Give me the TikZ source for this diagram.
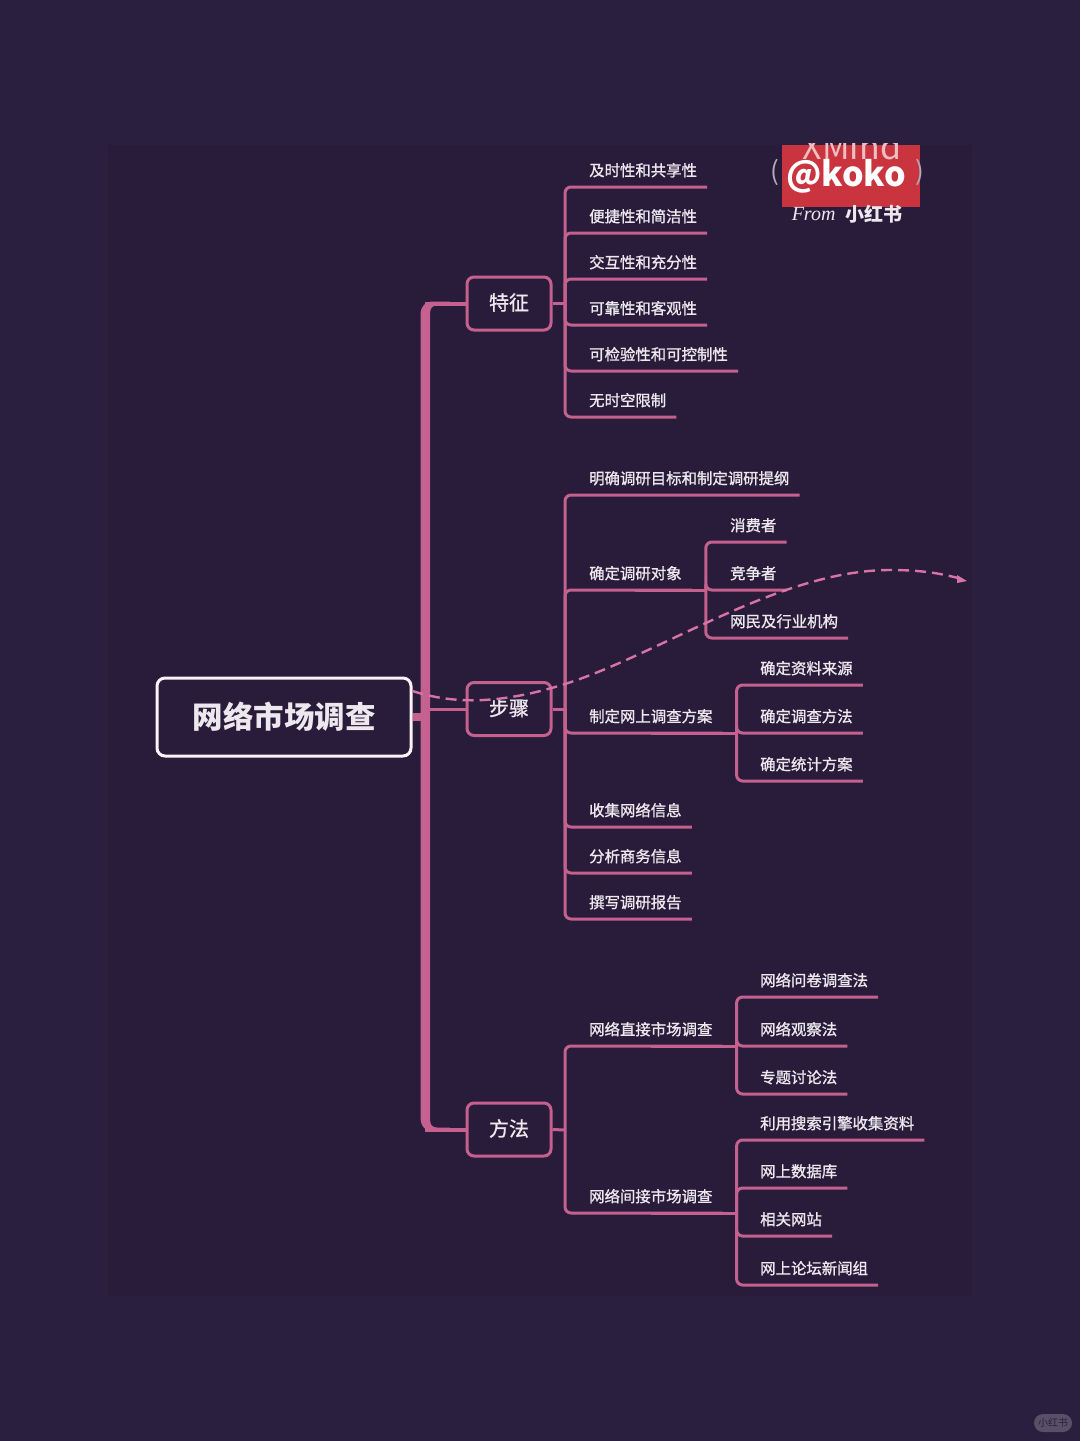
\documentclass[tikz,border=0pt]{standalone}
\usepackage{fontspec}
\setmainfont{Noto Sans CJK SC}
\newfontfamily\labelfont[FakeBold=1.2]{Noto Sans CJK SC}
\newfontfamily\stampfont{Liberation Serif}
\definecolor{bgouter}{HTML}{2A1F3E}
\definecolor{bginner}{HTML}{281C3A}
\definecolor{linkpink}{HTML}{C4618F}
\definecolor{dashpink}{HTML}{D873A8}
\definecolor{labelwhite}{HTML}{ECE8EE}
\definecolor{stampred}{HTML}{C9343F}
\begin{document}
\begin{tikzpicture}[
            x=1pt,
            y=-1pt,
            root box/.style={draw=white!92!linkpink, line width=3pt, rounded corners=8pt, minimum width=254pt, minimum height=78pt, inner sep=0pt, text=labelwhite, font=\fontsize{30.5}{34}\selectfont\bfseries},
            topic box/.style={draw=linkpink, line width=3pt, rounded corners=7pt, minimum width=84pt, minimum height=53pt, inner sep=0pt, text height=17.6pt, text depth=4.4pt, text=labelwhite, font=\fontsize{20}{24}\labelfont},
            leaf text/.style={anchor=south west, minimum height=34pt, inner ysep=0pt, inner xsep=10pt, text height=13.5pt, text depth=0.9pt, text=labelwhite, font=\fontsize{15.4}{18}\labelfont},
            twig/.style={draw=linkpink, line width=3pt, rounded corners=6pt},
            stub/.style={draw=linkpink, line width=3pt}
        ]
        \useasboundingbox (0,0) rectangle (1080,1441);
        \fill[bgouter] (0,0) rectangle (1080,1441);
        \fill[bginner] (108,145) rectangle (972,1296);

        \node[root box] (root) at (284,717) {网络市场调查};
        \node[topic box] (feature) at (509,303.5) {特征};
        \node[topic box] (steps) at (509,709) {步骤};
        \node[topic box] (methods) at (509,1129.5) {方法};

        \coordinate (trunk) at (425,717);
        \fill[linkpink] (430,314) .. controls (430,308.5) and (432,305.5) .. (437,305.5) -- (450,305.5) -- (450,301.5) -- (434,301.5)
            .. controls (425,301.5) and (420.5,306) .. (420.5,315) -- (420.5,1117)
            .. controls (420.5,1126) and (425,1131.5) .. (434,1131.5) -- (450,1131.5) -- (450,1127.5) -- (437,1127.5)
            .. controls (432,1127.5) and (430,1124.5) .. (430,1119) -- cycle;
        \draw[linkpink, line width=8pt] (root.east) -- (trunk);
        \draw[linkpink, line width=4pt] (trunk |- feature.west) -- (feature.west);
        \draw[linkpink, line width=4pt] (trunk |- methods.west) -- (methods.west);
        \draw[stub] (trunk |- steps.west) -- (steps.west);

        \coordinate (feature hub) at (565,303.5);
        \coordinate (steps hub) at (565,709);
        \coordinate (methods hub) at (565,1130);
        \draw[stub] (feature.east) -- (feature hub);
        \draw[stub] (steps.east) -- (steps hub);
        \draw[stub] (methods.east) -- (methods hub);

        \foreach \name/\ypos/\value in {
                fa/187/及时性和共享性,
                fb/233/便捷性和简洁性,
                fc/279/交互性和充分性,
                fd/325/可靠性和客观性,
                fe/371/可检验性和可控制性,
                ff/417/无时空限制
            } {
                \node[leaf text] (\name) at (579,\ypos) {\value};
                \draw[twig] (feature hub) |- (\name.south east);
            }

        \foreach \name/\ypos/\value in {
                sa/495/明确调研目标和制定调研提纲,
                sb/590/确定调研对象,
                sc/733/制定网上调查方案,
                sd/827/收集网络信息,
                se/873/分析商务信息,
                sf/919/撰写调研报告
            } {
                \node[leaf text] (\name) at (579,\ypos) {\value};
                \draw[twig] (steps hub) |- (\name.south east);
            }

        \foreach \name/\ypos/\value in {
                ma/1046/网络直接市场调查,
                mb/1213/网络间接市场调查
            } {
                \node[leaf text] (\name) at (579,\ypos) {\value};
                \draw[twig] (methods hub) |- (\name.south east);
            }

        \path (sb.south east) ++(14,0) coordinate (sb hub);
        \path (sc.south east) ++(14,0) coordinate (sc hub);
        \path (ma.south east) ++(14,0) coordinate (ma hub);
        \path (mb.south east) ++(14,0) coordinate (mb hub);
        \draw[stub] (sb.south) -- (sb hub);
        \draw[stub] (sc.south) -- (sc hub);
        \draw[stub] (ma.south) -- (ma hub);
        \draw[stub] (mb.south) -- (mb hub);

        \foreach \name/\ypos/\value in {
                sba/542/消费者,
                sbb/590/竞争者,
                sbc/638/网民及行业机构
            } {
                \node[leaf text] (\name) at (720,\ypos) {\value};
                \draw[twig] (sb hub) |- (\name.south east);
            }

        \foreach \hub/\name/\ypos/\value in {
                sc hub/sca/685/确定资料来源,
                sc hub/scb/733/确定调查方法,
                sc hub/scc/781/确定统计方案,
                ma hub/maa/997/网络问卷调查法,
                ma hub/mab/1046/网络观察法,
                ma hub/mac/1094/专题讨论法,
                mb hub/mba/1140/利用搜索引擎收集资料,
                mb hub/mbb/1188/网上数据库,
                mb hub/mbc/1236/相关网站,
                mb hub/mbd/1285/网上论坛新闻组
            } {
                \node[leaf text] (\name) at (750,\ypos) {\value};
                \draw[twig] (\hub) |- (\name.south east);
            }

        \coordinate (trend end) at (967,581);
        \draw[dashpink, line width=2.4pt, dash pattern=on 11pt off 6pt] (root.north east |- 0,691)
            .. controls (450,703) and (495,706) .. (565,684)
            .. controls (660,654) and (780,570) .. (890,570)
            .. controls (915,570) and (935,572) .. (958,578);
        \fill[dashpink] (trend end) -- (957,575) -- (957,583) -- cycle;

        \fill[stampred] (782,145) rectangle (920,207);
        \begin{scope}
            \clip (760,143) rectangle (940,220);
            \node[text=white!68!stampred, font=\fontsize{34}{38}\selectfont] (xmind) at (852,146) {XMind};
        \end{scope}
        \node[text=labelwhite!70!bginner, font=\fontsize{26}{30}\selectfont] (open paren) at (775,172) {(};
        \node[text=labelwhite!70!bginner, font=\fontsize{26}{30}\selectfont] (close paren) at (920,172) {)};
        \node[text=white, font=\fontsize{34}{38}\selectfont\bfseries] (stamp) at (846,176) {@koko};
        \node[text=labelwhite, font=\fontsize{20}{24}\stampfont\itshape, anchor=east] (from) at (839,214) {From};
        \node[text=labelwhite, font=\fontsize{19}{22}\selectfont\bfseries] (brand) at (874,214) {小红书};

        \node[fill=white!22!bgouter, rounded corners=9pt, minimum width=38pt, minimum height=18pt, inner sep=0pt, text=bgouter, font=\fontsize{10}{12}\selectfont] (badge) at (1053,1423) {小红书};
    \end{tikzpicture}
\end{document}
